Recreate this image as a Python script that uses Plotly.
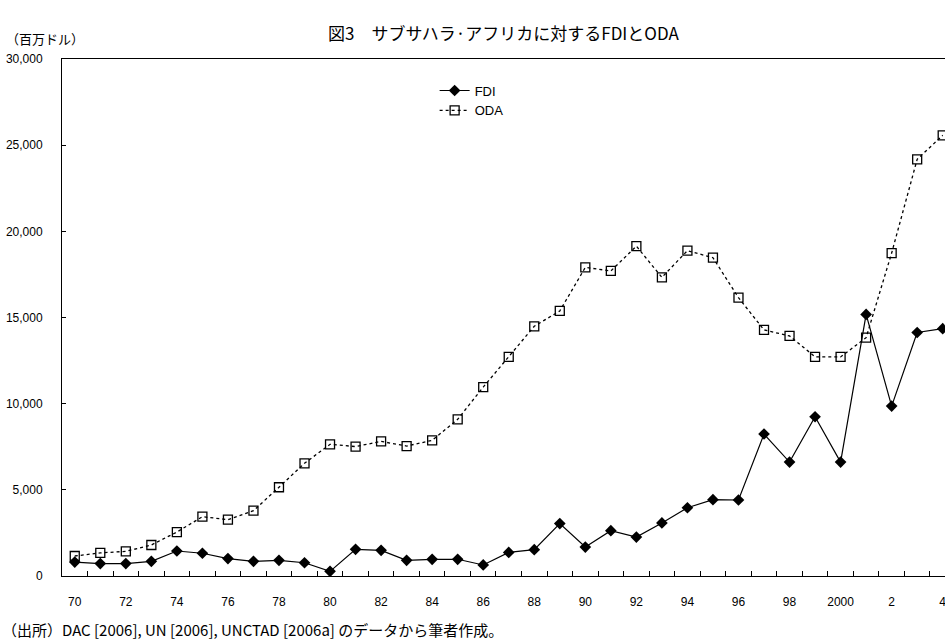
import plotly.graph_objects as go

# Years 1970-2004
years = list(range(1970, 2005))

# Foreign direct investment inflows to Sub-Saharan Africa (million USD)
fdi = [810, 720, 720, 850, 1450, 1320, 1010, 850, 910, 770, 270, 1550,
       1490, 910, 970, 970, 640, 1370, 1530, 3040, 1680, 2630, 2260, 3080,
       3960, 4430, 4410, 8240, 6610, 9240, 6610, 15180, 9860, 14130, 14350]

# Official development assistance to Sub-Saharan Africa (million USD)
oda = [1160, 1340, 1430, 1800, 2550, 3440, 3270, 3790, 5150, 6540, 7640, 7510,
       7810, 7540, 7870, 9090, 10960, 12720, 14490, 15380, 17910, 17700, 19140, 17330,
       18880, 18470, 16150, 14280, 13930, 12720, 12710, 13830, 18740, 24180, 25570]

# Category axis labels (every other year)
label_years = list(range(1970, 2005, 2))
label_text = ["70", "72", "74", "76", "78", "80", "82", "84", "86", "88",
              "90", "92", "94", "96", "98", "2000", "2", "4"]

y_ticks = [0, 5000, 10000, 15000, 20000, 25000, 30000]
y_text = ["0", "5,000", "10,000", "15,000", "20,000", "25,000", "30,000"]

jp_font = "Noto Sans CJK JP"
num_font = "Liberation Sans, Arial, sans-serif"

fig = go.Figure()

fig.add_trace(go.Scatter(
    x=years, y=fdi, name="FDI", mode="lines+markers",
    line=dict(color="black", width=1.2),
    marker=dict(symbol="diamond", size=9, color="black"),
))

fig.add_trace(go.Scatter(
    x=years, y=oda, name="ODA", mode="lines+markers",
    line=dict(color="black", width=1.3, dash="dot"),
    marker=dict(symbol="square-open", size=9, color="black",
                line=dict(width=1.3, color="black")),
))

# Helper axis that carries the year labels at category centres
fig.add_trace(go.Scatter(x=[years[0]], y=[0], xaxis="x2", showlegend=False,
                         mode="markers", marker=dict(opacity=0), hoverinfo="skip"))

x_range = [1969.5, 2004.09]

fig.update_layout(
    width=945, height=639,
    margin=dict(l=62, r=0, t=59, b=63),
    paper_bgcolor="white", plot_bgcolor="white",
    showlegend=True,
    legend=dict(x=0.422, y=0.968, xanchor="left", yanchor="top",
                bgcolor="rgba(0,0,0,0)", font=dict(family=num_font, size=13, color="black"),
                itemwidth=30, tracegroupgap=0),
    xaxis=dict(
        range=x_range, showgrid=False, zeroline=False,
        showline=True, linecolor="black", linewidth=1, mirror=True,
        tickmode="array", tickvals=[y + 0.5 for y in range(1969, 2005)],
        ticks="inside", ticklen=5, tickcolor="black", showticklabels=False,
    ),
    xaxis2=dict(
        range=x_range, overlaying="x", side="bottom", showgrid=False,
        zeroline=False, showline=False, ticks="",
        tickmode="array", tickvals=label_years, ticktext=label_text,
        tickfont=dict(family=num_font, size=12, color="black"),
        ticklabelstandoff=17, ticklabeloverflow="allow",
    ),
    yaxis=dict(
        range=[0, 30000], showgrid=False, zeroline=False,
        showline=True, linecolor="black", linewidth=1,
        tickmode="array", tickvals=y_ticks, ticktext=y_text,
        ticks="inside", ticklen=4, tickcolor="black",
        tickfont=dict(family=num_font, size=12, color="black"),
        ticklabelstandoff=16,
    ),
    annotations=[
        dict(text="図3　サブサハラ·アフリカに対するFDIとODA", xref="paper", yref="paper",
             x=(504 - 62) / 883, y=(576 - 33) / 517, xanchor="center", yanchor="middle",
             showarrow=False, font=dict(family=jp_font, size=17, color="black")),
        dict(text="（百万ドル）", xref="paper", yref="paper",
             x=-58 / 883, y=(576 - 38) / 517, xanchor="left", yanchor="middle",
             showarrow=False, font=dict(family=jp_font, size=13, color="black")),
        dict(text="（出所）DAC [2006], UN [2006], UNCTAD [2006a] のデータから筆者作成。",
             xref="paper", yref="paper",
             x=-62 / 883, y=(576 - 629) / 517, xanchor="left", yanchor="middle",
             showarrow=False, font=dict(family=jp_font, size=15, color="black")),
    ],
)

fig.write_html("out.html")
